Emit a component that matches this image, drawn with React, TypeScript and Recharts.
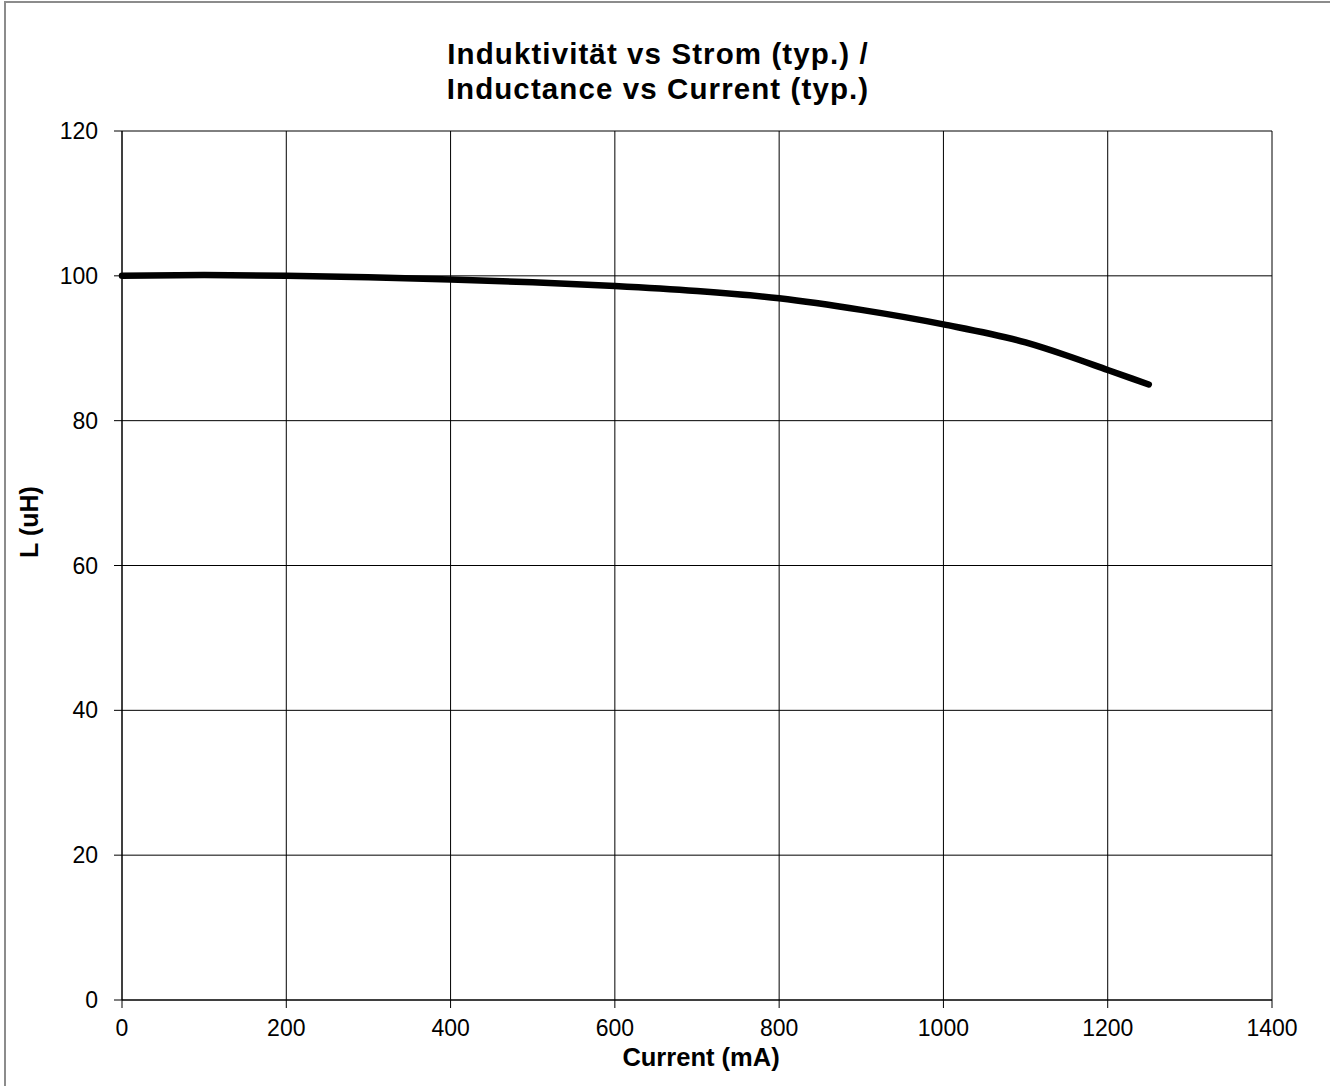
import { LineChart, Line, XAxis, YAxis, CartesianGrid } from "recharts";

// Strom / current (mA)
const currentMa = [0, 100, 200, 300, 400, 500, 600, 700, 800, 900, 1000, 1100, 1150, 1200, 1250];
// Induktivität / inductance (uH)
const inductanceUh = [100, 100.1, 100, 99.8, 99.5, 99.1, 98.6, 97.9, 96.9, 95.3, 93.3, 90.8, 89.0, 87.0, 85.0];

const xTicks = [0, 200, 400, 600, 800, 1000, 1200, 1400];
const yTicks = [0, 20, 40, 60, 80, 100, 120];

const titleLines = ["Induktivität vs Strom (typ.) /", "Inductance vs Current (typ.)"];

const data = currentMa.map((c, i) => ({ current: c, L: inductanceUh[i] }));

const FONT = "'Liberation Sans', Arial, sans-serif";

export default function App() {
  return (
    <div
      style={{
        position: "absolute",
        left: 0,
        top: 0,
        width: 1330,
        height: 1086,
        background: "#fff",
        fontFamily: FONT,
        overflow: "hidden",
      }}
    >
      {/* outer frame, only top/left edges visible in the crop */}
      <div
        style={{
          position: "absolute",
          left: 4,
          top: 1,
          width: 1340,
          height: 1100,
          borderTop: "2px solid #8c8c8c",
          borderLeft: "2px solid #8c8c8c",
        }}
      />
      <LineChart
        width={1330}
        height={1086}
        data={data}
        margin={{ top: 131, right: 58, bottom: 36, left: 62 }}
        style={{ position: "absolute", left: 0, top: 0 }}
      >
        <text x={658} y={53} textAnchor="middle" dominantBaseline="central" fontSize={29.5} letterSpacing={1.1} fontWeight="bold" fill="#000" fontFamily={FONT}>
          {titleLines[0]}
        </text>
        <text x={658} y={88} textAnchor="middle" dominantBaseline="central" fontSize={29.5} letterSpacing={1.1} fontWeight="bold" fill="#000" fontFamily={FONT}>
          {titleLines[1]}
        </text>
        <CartesianGrid stroke="#000" strokeWidth={1} />
        <XAxis
          dataKey="current"
          type="number"
          domain={[0, 1400]}
          ticks={xTicks}
          height={50}
          tickSize={8}
          tickMargin={12}
          stroke="#000"
          tick={{ fill: "#000", fontSize: 23, fontFamily: FONT }}
          label={{
            content: () => (
              <text x={701} y={1057} textAnchor="middle" dominantBaseline="central" fontSize={25.5} fontWeight="bold" fill="#000" fontFamily={FONT}>
                Current (mA)
              </text>
            ),
          }}
        />
        <YAxis
          type="number"
          domain={[0, 120]}
          ticks={yTicks}
          width={60}
          tickSize={8}
          tickMargin={16}
          stroke="#000"
          tick={{ fill: "#000", fontSize: 23, fontFamily: FONT }}
          label={{
            content: () => (
              <text x={29} y={522} transform="rotate(-90 29 522)" textAnchor="middle" dominantBaseline="central" fontSize={25} fontWeight="bold" fill="#000" fontFamily={FONT}>
                L (uH)
              </text>
            ),
          }}
        />
        <Line
          type="monotone"
          dataKey="L"
          stroke="#000"
          strokeWidth={6.5}
          strokeLinecap="round"
          dot={false}
          activeDot={false}
          isAnimationActive={false}
        />
      </LineChart>
    </div>
  );
}
